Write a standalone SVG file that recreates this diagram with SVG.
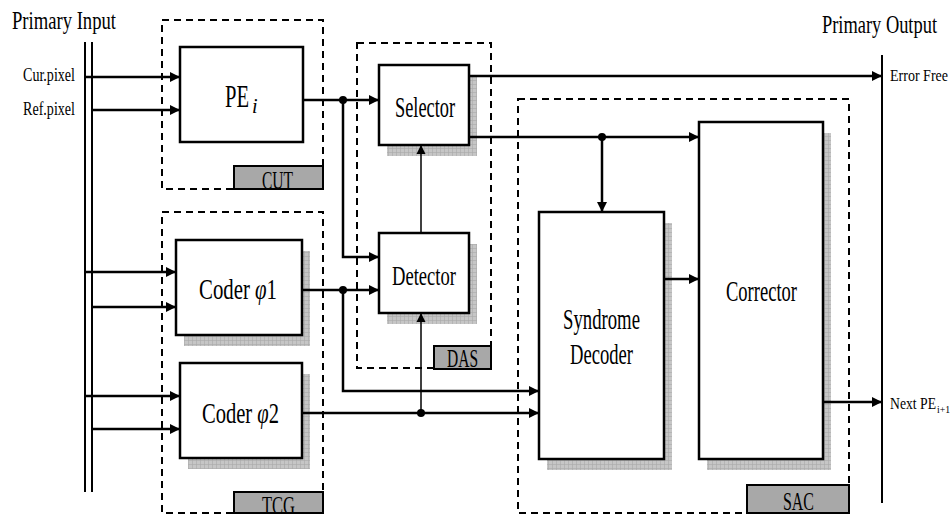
<svg xmlns="http://www.w3.org/2000/svg" width="952" height="515" viewBox="0 0 952 515">
<defs>
<pattern id="grid" width="4" height="4" patternUnits="userSpaceOnUse">
<rect width="4" height="4" fill="#c6c6c6"/>
<path d="M0 0.5H4M0.5 0V4" stroke="#a9a9a9" stroke-width="0.6"/>
</pattern>
<marker id="ah" viewBox="0 0 10 10" refX="10" refY="5" markerWidth="4" markerHeight="4" orient="auto" markerUnits="strokeWidth">
<path d="M0 0L10 5L0 10z" fill="#000"/>
</marker>
<marker id="ahs" viewBox="0 0 10 10" refX="10" refY="5" markerWidth="6" markerHeight="7" orient="auto" markerUnits="strokeWidth">
<path d="M0 0L10 5L0 10z" fill="#000"/>
</marker>
</defs>
<style>
text{font-family:'Liberation Serif','Times New Roman',serif;fill:#000}
.box{fill:#fff;stroke:#000;stroke-width:2.5}
.sh{fill:url(#grid)}
.grp{fill:none;stroke:#000;stroke-width:2;stroke-dasharray:7 5}
.lab{fill:#a8a8a8;stroke:#000;stroke-width:2}
.ca{fill:none;stroke:#000;stroke-width:2.5;marker-end:url(#ah)}
.cs{fill:none;stroke:#000;stroke-width:1.5;marker-end:url(#ahs)}
.bus{fill:none;stroke:#000;stroke-width:2}
.n{font-size:29px}
.g{font-size:25px}
</style>
<rect width="952" height="515" fill="#fff"/>

<g id="title-input"><text x="12" y="29" font-size="25" textLength="104" lengthAdjust="spacingAndGlyphs">Primary Input</text></g>
<g id="title-output"><text x="822" y="33" font-size="25" textLength="115" lengthAdjust="spacingAndGlyphs">Primary Output</text></g>

<g id="input-bus">
<line class="bus" x1="85" y1="42" x2="85" y2="492"/>
<line class="bus" x1="92" y1="42" x2="92" y2="492"/>
<text x="23" y="81" font-size="18" textLength="52" lengthAdjust="spacingAndGlyphs">Cur.pixel</text>
<text x="23" y="115" font-size="18" textLength="52" lengthAdjust="spacingAndGlyphs">Ref.pixel</text>
</g>
<g id="output-bus">
<line class="bus" x1="882" y1="55" x2="882" y2="503"/>
<text x="890" y="81" font-size="16" textLength="58" lengthAdjust="spacingAndGlyphs">Error Free</text>
<text x="890" y="409" font-size="17" textLength="46" lengthAdjust="spacingAndGlyphs">Next PE</text>
<text x="937" y="413" font-size="11" textLength="13" lengthAdjust="spacingAndGlyphs">i+1</text>
</g>

<g id="CUT">
<rect class="grp" x="162" y="20" width="161" height="169"/>
<rect class="lab" x="234" y="166" width="89" height="23"/>
<text x="262" y="189" class="g" textLength="31" lengthAdjust="spacingAndGlyphs">CUT</text>
</g>
<g id="TCG">
<rect class="grp" x="162" y="212" width="161" height="301"/>
<rect class="lab" x="234" y="492" width="89" height="21"/>
<text x="262" y="514" class="g" textLength="33" lengthAdjust="spacingAndGlyphs">TCG</text>
</g>
<g id="DAS">
<rect class="grp" x="357" y="43" width="134" height="325"/>
<rect class="lab" x="434" y="346" width="57" height="23"/>
<text x="447" y="367" class="g" textLength="31" lengthAdjust="spacingAndGlyphs">DAS</text>
</g>
<g id="SAC">
<rect class="grp" x="518" y="99" width="331" height="414"/>
<rect class="lab" x="747" y="485" width="102" height="28"/>
<text x="783" y="510" class="g" textLength="31" lengthAdjust="spacingAndGlyphs">SAC</text>
</g>

<g id="PE">
<rect class="box" x="180" y="47" width="123" height="95"/>
<text x="225" y="107" font-size="31" textLength="24" lengthAdjust="spacingAndGlyphs">PE</text>
<text x="252" y="113" font-size="20" font-style="italic">i</text>
</g>
<g id="Coder1">
<rect class="sh" x="184" y="251" width="126" height="95"/>
<rect class="box" x="176" y="240" width="126" height="95"/>
<text x="199" y="299" class="n" textLength="78" lengthAdjust="spacingAndGlyphs">Coder <tspan font-style="italic">φ</tspan>1</text>
</g>
<g id="Coder2">
<rect class="sh" x="188" y="374" width="122" height="95"/>
<rect class="box" x="180" y="363" width="122" height="95"/>
<text x="202" y="423" class="n" textLength="77" lengthAdjust="spacingAndGlyphs">Coder <tspan font-style="italic">φ</tspan>2</text>
</g>
<g id="Selector">
<rect class="sh" x="387" y="76" width="90" height="80"/>
<rect class="box" x="379" y="65" width="90" height="80"/>
<text x="395" y="117" font-size="30" textLength="60" lengthAdjust="spacingAndGlyphs">Selector</text>
</g>
<g id="Detector">
<rect class="sh" x="387" y="244" width="90" height="80"/>
<rect class="box" x="379" y="233" width="90" height="80"/>
<text x="392" y="285" font-size="28" textLength="64" lengthAdjust="spacingAndGlyphs">Detector</text>
</g>
<g id="SyndromeDecoder">
<rect class="sh" x="547" y="223" width="125" height="247"/>
<rect class="box" x="539" y="212" width="125" height="247"/>
<text x="563" y="329" class="n" textLength="77" lengthAdjust="spacingAndGlyphs">Syndrome</text>
<text x="570" y="364" class="n" textLength="63" lengthAdjust="spacingAndGlyphs">Decoder</text>
</g>
<g id="Corrector">
<rect class="sh" x="707" y="133" width="124" height="337"/>
<rect class="box" x="699" y="122" width="124" height="337"/>
<text x="726" y="301" class="n" textLength="71" lengthAdjust="spacingAndGlyphs">Corrector</text>
</g>

<g id="connectors">
<path class="ca" d="M85 77H180"/>
<path class="ca" d="M92 110H180"/>
<path class="ca" d="M85 272H176"/>
<path class="ca" d="M92 307H176"/>
<path class="ca" d="M85 396H180"/>
<path class="ca" d="M92 429H180"/>
<path class="ca" d="M303 100H379"/>
<path class="ca" d="M343 100V257H379"/>
<path class="ca" d="M302 290H379"/>
<path class="ca" d="M343 290V391H539"/>
<path class="ca" d="M302 413H539"/>
<path class="cs" d="M421 413V313"/>
<path class="cs" d="M421 233V145"/>
<path class="ca" d="M469 76H882"/>
<path class="ca" d="M469 137H699"/>
<path class="ca" d="M602 137V212"/>
<path class="ca" d="M664 279H699"/>
<path class="ca" d="M823 402H882"/>
<circle cx="343" cy="100" r="4"/>
<circle cx="343" cy="290" r="4"/>
<circle cx="421" cy="413" r="4"/>
<circle cx="602" cy="137" r="4"/>
</g>
</svg>
